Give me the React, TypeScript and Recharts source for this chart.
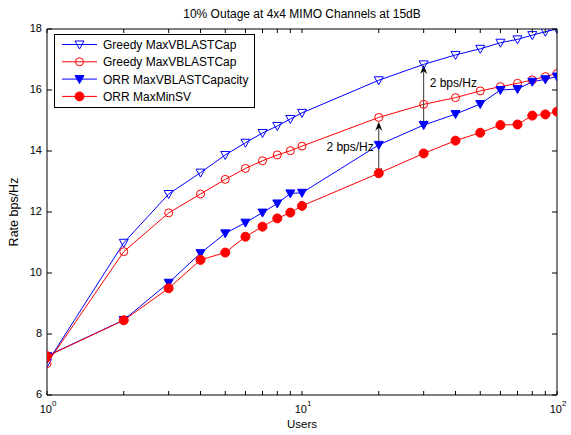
import React from "react";
import {
  LineChart,
  Line,
  XAxis,
  YAxis,
  Legend,
  ReferenceLine,
  ReferenceDot,
} from "recharts";

const users = [1, 2, 3, 4, 5, 6, 7, 8, 9, 10, 20, 30, 40, 50, 60, 70, 80, 90, 100];
const greedyVblastTri = [7.05, 10.99, 12.59, 13.29, 13.87, 14.27, 14.59, 14.82, 15.05, 15.25, 16.32, 16.84, 17.15, 17.35, 17.55, 17.66, 17.8, 17.91, 18.0];
const greedyVblastCirc = [7.03, 10.7, 11.97, 12.59, 13.07, 13.43, 13.68, 13.87, 14.01, 14.16, 15.1, 15.53, 15.75, 15.97, 16.11, 16.22, 16.33, 16.44, 16.54];
const orrVblast = [7.28, 8.46, 9.68, 10.65, 11.3, 11.65, 11.98, 12.28, 12.61, 12.63, 14.2, 14.85, 15.21, 15.54, 16.0, 16.03, 16.27, 16.35, 16.44];
const orrMinSv = [7.27, 8.45, 9.5, 10.43, 10.67, 11.19, 11.52, 11.79, 11.98, 12.2, 13.27, 13.92, 14.34, 14.6, 14.85, 14.87, 15.16, 15.2, 15.29];

const xTicks = [1, 2, 3, 4, 5, 6, 7, 8, 9, 10, 20, 30, 40, 50, 60, 70, 80, 90, 100];
const yTicks = [6, 8, 10, 12, 14, 16, 18];

// gap annotations: x position, arrow top/bottom, label height and side
const gapX = [20, 30];
const gapTop = [14.96, 16.82];
const gapBottom = [13.16, 14.72];
const gapLabelY = [14.14, 16.24];
const gapSide = ["left", "right"];
const gapLabel = "2 bps/Hz";

const BLUE = "#0000ff";
const RED = "#ff0000";
const FONT = "'Liberation Sans', Arial, sans-serif";

const data = users.map((u, i) => ({
  users: u,
  greedyTri: greedyVblastTri[i],
  greedyCirc: greedyVblastCirc[i],
  orrTri: orrVblast[i],
  orrCirc: orrMinSv[i],
}));

type MarkerKind = "openTri" | "openCirc" | "fillTri" | "fillCirc";

function marker(kind: MarkerKind, cx: number, cy: number, color: string, key?: any) {
  if (kind === "openTri" || kind === "fillTri") {
    const pts = `${cx - 4.5},${cy - 3.5} ${cx + 4.5},${cy - 3.5} ${cx},${cy + 4.5}`;
    return (
      <polygon
        key={key}
        points={pts}
        fill={kind === "fillTri" ? color : "none"}
        stroke={color}
        strokeWidth={1}
      />
    );
  }
  return (
    <circle
      key={key}
      cx={cx}
      cy={cy}
      r={kind === "fillCirc" ? 4.5 : 4}
      fill={kind === "fillCirc" ? color : "none"}
      stroke={color}
      strokeWidth={1}
    />
  );
}

const series = [
  { key: "greedyTri", name: "Greedy MaxVBLASTCap", color: BLUE, kind: "openTri" as MarkerKind },
  { key: "greedyCirc", name: "Greedy MaxVBLASTCap", color: RED, kind: "openCirc" as MarkerKind },
  { key: "orrTri", name: "ORR MaxVBLASTCapacity", color: BLUE, kind: "fillTri" as MarkerKind },
  { key: "orrCirc", name: "ORR MaxMinSV", color: RED, kind: "fillCirc" as MarkerKind },
];

const BottomTick = (props: any) => {
  const { x, y, payload } = props;
  const v = payload.value;
  const exp = [1, 10, 100].indexOf(v);
  return (
    <g>
      <line x1={x} y1={y} x2={x} y2={y - 4} stroke="#000" />
      {exp >= 0 && (
        <text x={x + 1} y={y + 18} textAnchor="middle" fontSize={11} fontFamily={FONT} fill="#000">
          <tspan>10</tspan>
          <tspan dy={-7} fontSize={8}>{exp}</tspan>
        </text>
      )}
    </g>
  );
};

const TopTick = (props: any) => {
  const { x, y } = props;
  return <line x1={x} y1={y} x2={x} y2={y + 4} stroke="#000" />;
};

const LeftTick = (props: any) => {
  const { x, y, payload } = props;
  return (
    <g>
      <line x1={x} y1={y} x2={x + 5} y2={y} stroke="#000" />
      <text x={x - 5} y={y + 3} textAnchor="end" fontSize={11} fontFamily={FONT} fill="#000">
        {payload.value}
      </text>
    </g>
  );
};

const RightTick = (props: any) => {
  const { x, y } = props;
  return <line x1={x} y1={y} x2={x - 5} y2={y} stroke="#000" />;
};

const GapArrow = (props: any) => {
  const { x1, y1, x2, y2 } = props;
  if (x1 == null) return null;
  const top = Math.min(y1, y2);
  const bot = Math.max(y1, y2);
  const head = (tipY: number, dir: number) =>
    `${x1},${tipY} ${x1 - 3.5},${tipY + dir * 9} ${x1},${tipY + dir * 6} ${x1 + 3.5},${tipY + dir * 9}`;
  return (
    <g>
      <line x1={x1} y1={top + 3} x2={x1} y2={bot - 3} stroke="#333" strokeWidth={1} />
      <polygon points={head(top, 1)} fill="#000" />
      <polygon points={head(bot, -1)} fill="#000" />
    </g>
  );
};

const GapText = (side: string) => (props: any) => {
  const { cx, cy } = props;
  if (cx == null) return null;
  return (
    <text
      x={side === "left" ? cx - 5 : cx + 6}
      y={cy + 4}
      textAnchor={side === "left" ? "end" : "start"}
      fontSize={12}
      fontFamily={FONT}
      fill="#000"
    >
      {gapLabel}
    </text>
  );
};

const LegendBox = (props: any) => {
  const payload = props.payload || [];
  return (
    <svg width={201} height={74} style={{ display: "block" }}>
      <rect x={0.5} y={0.5} width={200} height={73} fill="#fff" stroke="#000" />
      {series.map((s, i) => {
        const entry = payload.find((p: any) => p.dataKey === s.key);
        const cy = 10.5 + i * 17.3;
        return (
          <g key={s.key}>
            <line x1={8} y1={cy} x2={43} y2={cy} stroke={s.color} />
            {marker(s.kind, 25.5, cy, s.color)}
            <text x={49} y={cy + 4.5} fontSize={12} fontFamily={FONT} fill="#000">
              {entry ? entry.value : s.name}
            </text>
          </g>
        );
      })}
    </svg>
  );
};

export default function App() {
  return (
    <div style={{ position: "absolute", left: 0, top: 0, background: "#fff" }}>
      <LineChart width={571} height={435} data={data} margin={{ top: 0, right: 0, bottom: 0, left: 0 }}>
        <XAxis
          xAxisId="b"
          dataKey="users"
          type="number"
          scale="log"
          domain={[1, 100]}
          allowDataOverflow
          ticks={xTicks}
          interval={0}
          height={40}
          tickSize={0}
          tickMargin={0}
          tick={<BottomTick />}
          axisLine={{ stroke: "#000" }}
          label={{
            content: ({ viewBox }: any) => (
              <text
                x={viewBox.x + viewBox.width / 2}
                y={viewBox.y + 33}
                textAnchor="middle"
                fontSize={11.5}
                fontFamily={FONT}
                fill="#000"
              >
                Users
              </text>
            ),
          }}
        />
        <XAxis
          xAxisId="t"
          orientation="top"
          dataKey="users"
          type="number"
          scale="log"
          domain={[1, 100]}
          allowDataOverflow
          ticks={xTicks}
          interval={0}
          height={29}
          tickSize={0}
          tickMargin={0}
          tick={<TopTick />}
          axisLine={{ stroke: "#000" }}
          label={{
            content: ({ viewBox }: any) => (
              <text
                x={viewBox.x + viewBox.width / 2}
                y={18}
                textAnchor="middle"
                fontSize={12}
                fontFamily={FONT}
                fill="#000"
              >
                10% Outage at 4x4 MIMO Channels at 15dB
              </text>
            ),
          }}
        />
        <YAxis
          yAxisId="l"
          type="number"
          domain={[6, 18]}
          allowDataOverflow
          ticks={yTicks}
          interval={0}
          width={47}
          tickSize={0}
          tickMargin={0}
          tick={<LeftTick />}
          axisLine={{ stroke: "#000" }}
          label={{
            content: ({ viewBox }: any) => {
              const cx = 18;
              const cy = viewBox.y + viewBox.height / 2;
              return (
                <text
                  x={cx}
                  y={cy}
                  transform={`rotate(-90 ${cx} ${cy})`}
                  textAnchor="middle"
                  fontSize={12.5}
                  fontFamily={FONT}
                  fill="#000"
                >
                  Rate bps/Hz
                </text>
              );
            },
          }}
        />
        <YAxis
          yAxisId="r"
          orientation="right"
          type="number"
          domain={[6, 18]}
          allowDataOverflow
          ticks={yTicks}
          interval={0}
          width={14}
          tickSize={0}
          tickMargin={0}
          tick={<RightTick />}
          axisLine={{ stroke: "#000" }}
        />
        {series.map((s) => (
          <Line
            key={s.key}
            xAxisId="b"
            yAxisId="l"
            type="linear"
            dataKey={s.key}
            name={s.name}
            stroke={s.color}
            strokeWidth={1}
            isAnimationActive={false}
            dot={(p: any) => marker(s.kind, p.cx, p.cy, s.color, p.key ?? `${s.key}-${p.index}`)}
            activeDot={false}
          />
        ))}
        {gapX.map((gx, i) => (
          <ReferenceLine
            key={`gap-${i}`}
            xAxisId="b"
            yAxisId="l"
            segment={[
              { x: gx, y: gapTop[i] },
              { x: gx, y: gapBottom[i] },
            ]}
            shape={GapArrow}
          />
        ))}
        {gapX.map((gx, i) => (
          <ReferenceDot
            key={`gaplabel-${i}`}
            xAxisId="b"
            yAxisId="l"
            x={gx}
            y={gapLabelY[i]}
            shape={GapText(gapSide[i])}
          />
        ))}
        <Legend
          layout="horizontal"
          verticalAlign="middle"
          align="center"
          wrapperStyle={{ top: 34, left: 54, width: 201, height: 74 }}
          content={<LegendBox />}
        />
      </LineChart>
    </div>
  );
}
